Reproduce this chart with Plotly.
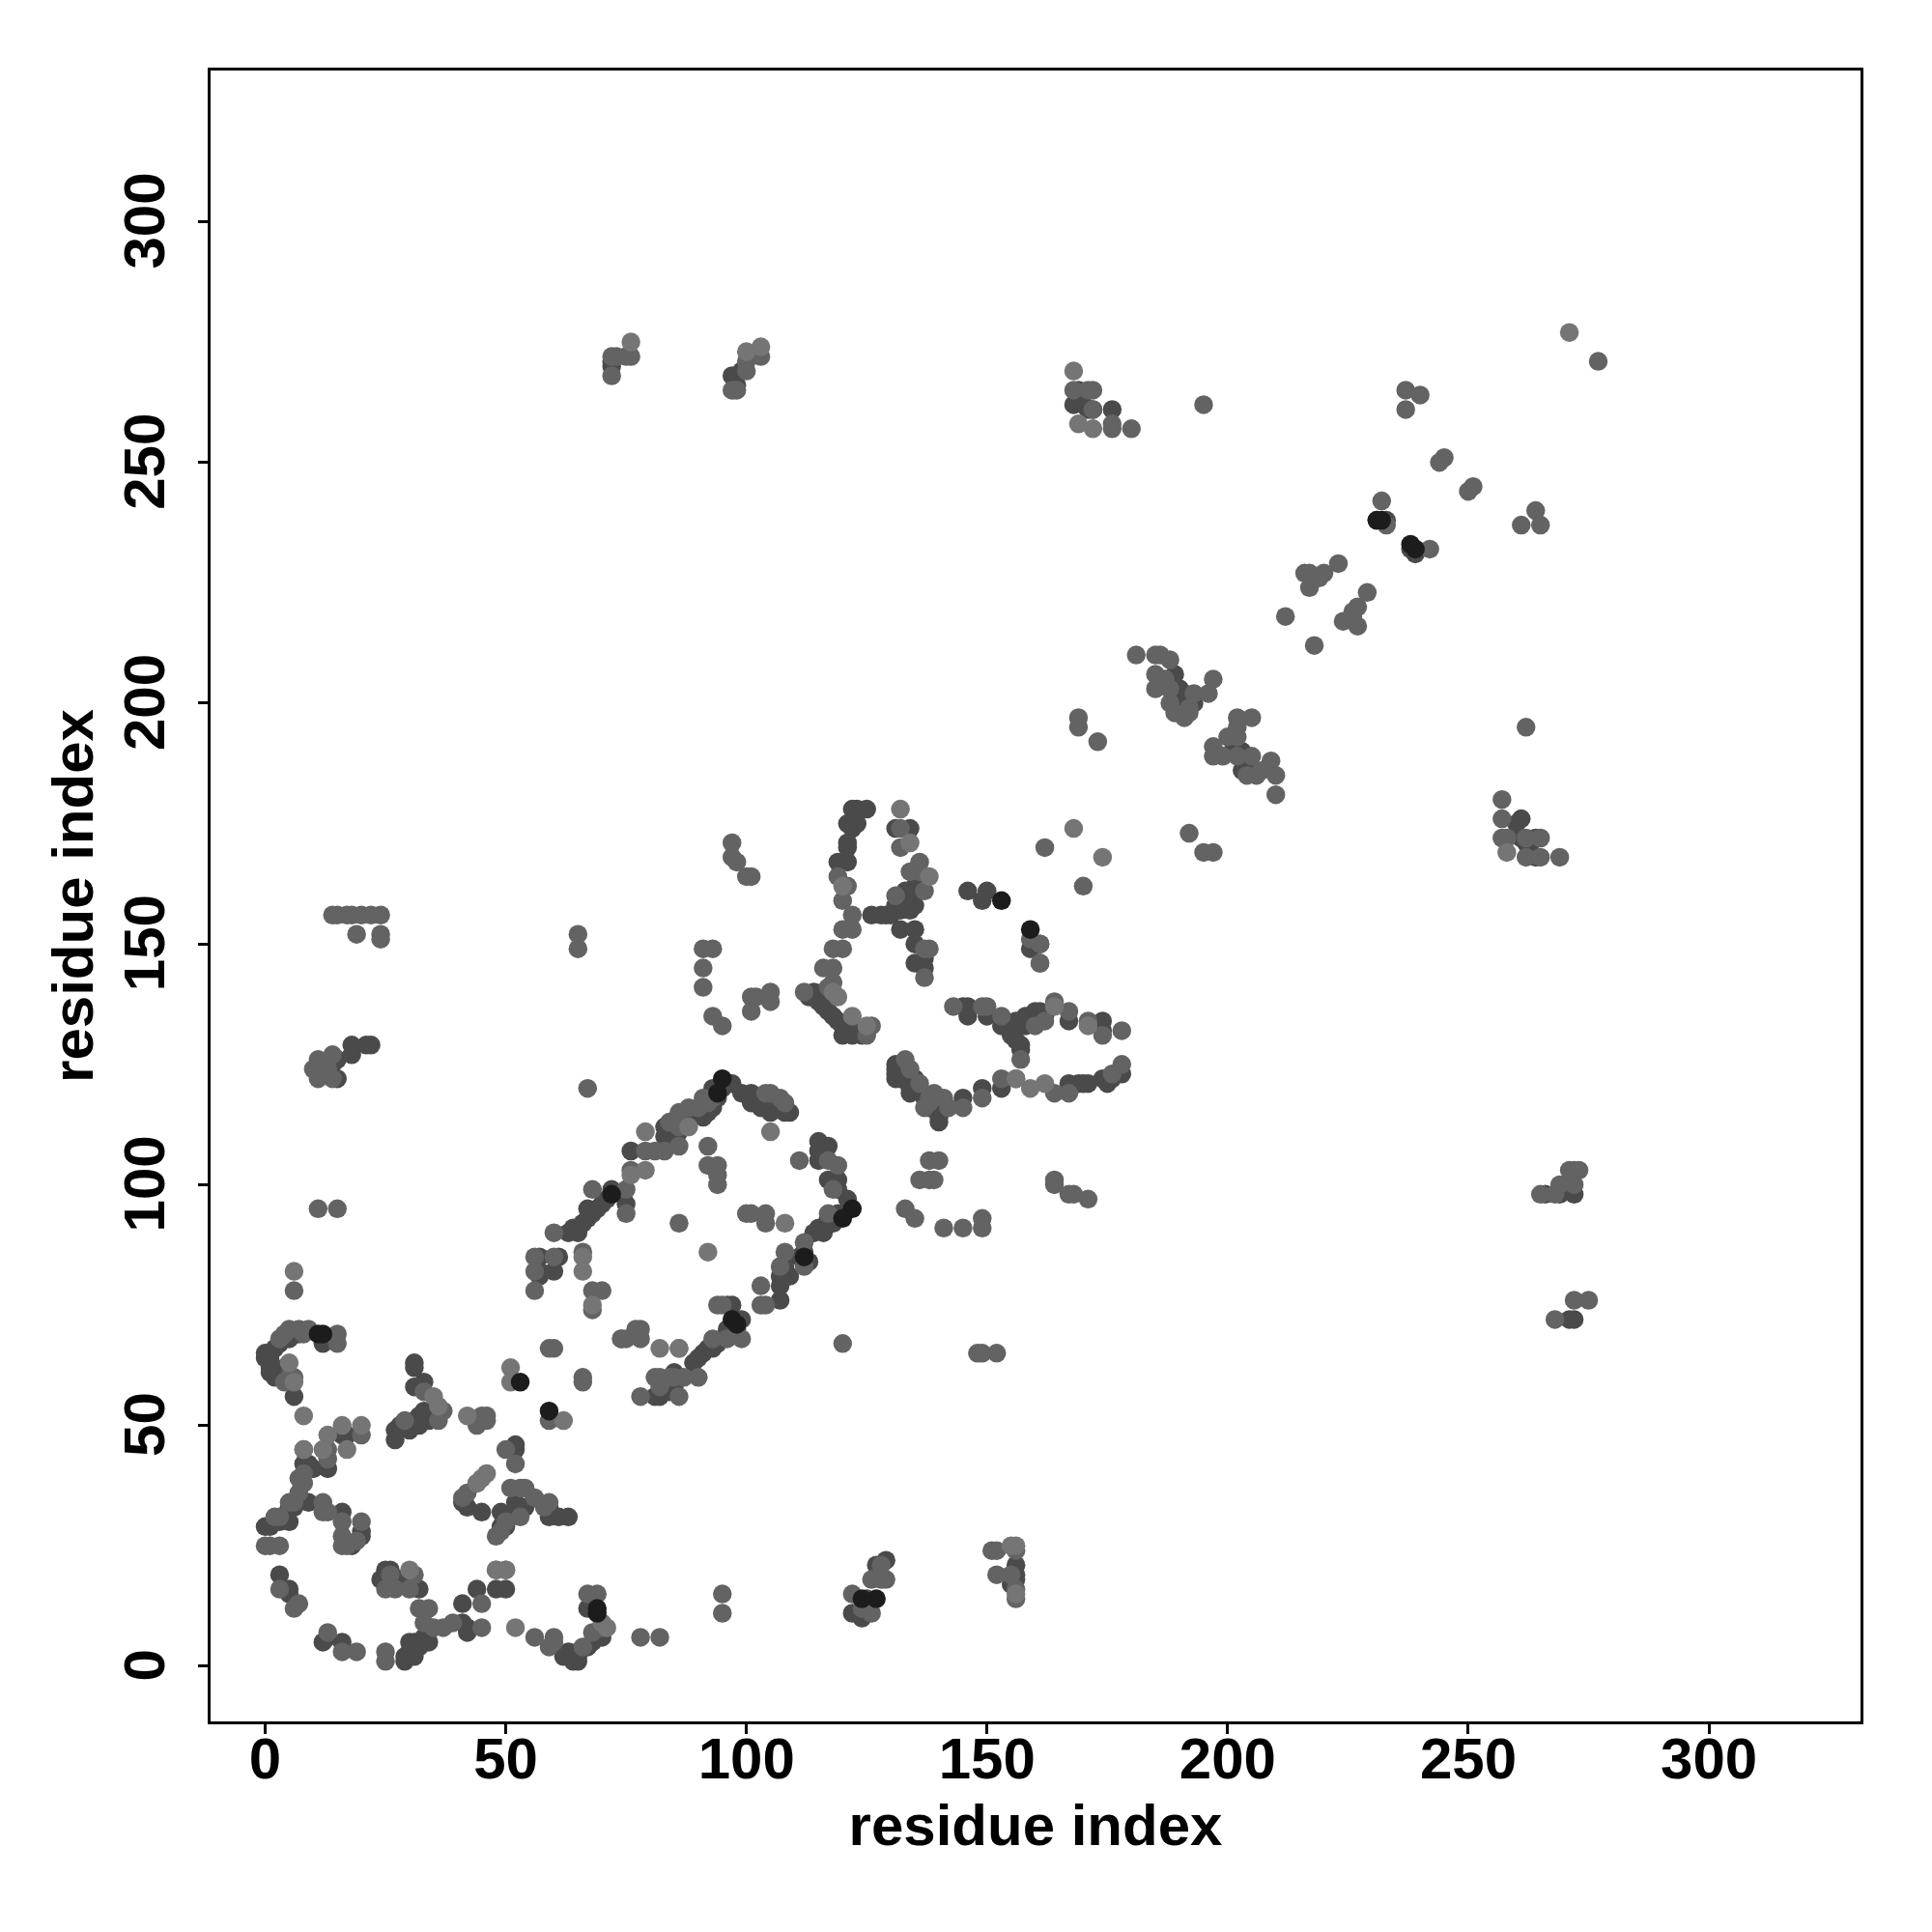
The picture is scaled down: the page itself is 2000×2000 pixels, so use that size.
import plotly.graph_objects as go

# residue contacts (i, j), grouped by the grey level of the dot
dark_contacts = [
 (0,64),(0,65),(1,64),(1,63),(1,62),(2,60),(2,66),(3,67),(5,68),(7,69),(4,62),(6,56),(12,67),(31,63),(31,62),(31,58),(33,59),
 (27,49),(28,50),(30,49),(31,51),(32,52),(32,50),(33,53),(34,51),(16,48),(17,48),(13,41),(9,42),(8,42),(10,41),(9,34),
 (6,33),(5,33),(4,31),(3,30),(1,29),(0,29),(5,30),(16,32),(20,27),(20,28),(18,25),(3,19),(5,16),(5,15),(12,5),(13,6),
 (16,5),(24,18),(25,20),(26,20),(28,18),(32,16),(41,13),(41,9),(42,8),(42,7),(44,16),(48,16),(50,16),(29,1),(29,2),(30,3),(31,2),(31,5),
 (32,4),(33,6),(34,5),(30,5),(62,2),(63,3),(64,2),(65,3),(65,2),(64,1),(65,1),(67,4),(68,5),(69,6),(70,6),(67,12),
 (41,34),(42,33),(45,32),(52,46),(52,45),(49,32),(50,31),(49,29),(50,29),(51,31),(52,34),(53,33),(54,33),(59,33),(59,31),(63,31),(61,31),
 (57,85),(61,85),(57,81),(57,82),(60,82),(65,91),(66,92),(67,93),(68,94),(67,95),(69,95),(70,96),(65,90),(63,90),(64,91),(71,97),(72,99),(75,96),
 (76,107),(83,112),(83,110),(84,110),(85,109),(85,111),(86,111),(88,113),(91,114),(92,115),(93,116),(94,118),(93,120),(95,120),(97,121),(99,119),(101,119),
 (101,117),(103,116),(105,115),(105,117),(108,115),(109,115),(115,109),(115,107),(117,108),(115,105),(117,101),(119,101),(119,99),(121,97),(119,94),(117,93),
 (115,91),(114,90),(116,90),(118,92),(112,86),(113,84),(111,85),(108,83),(109,81),(107,81),(107,79),(107,76),
 (96,75),(97,75),(99,72),(98,70),(96,70),(95,68),(94,67),(93,66),(92,66),(91,65),(90,64),(89,63),(85,61),(85,58),(84,57),(83,57),(82,56),(81,56),
 (121,175),(122,174),(123,175),(121,171),(121,170),(121,167),(119,167),(125,178),(122,178),(123,178),(116,140),(113,139),(114,140),(115,138),(116,137),(117,136),
 (118,135),(119,134),(120,133),(121,132),(122,131),(122,133),(123,132),(124,131),(120,131),(134,174),(131,174),(134,160),(135,162),(136,161),(133,161),(133,158),(134,157),(135,158),(132,157),
 (131,158),(129,156),(130,156),(128,156),(126,156),(132,153),(135,153),(135,150),(135,146),(137,147),(137,145),(146,161),(150,161),(149,159),(161,150),(161,146),(159,149),
 (145,137),(146,137),(146,135),(150,135),(153,133),(155,132),(155,131),(156,134),(156,130),(157,129),(157,128),(158,135),(159,134),(160,136),(161,136),(162,135),(158,133),(167,134),(174,134),(174,132),
 (131,125),(131,124),(131,123),(131,122),(132,122),(133,122),(135,122),(134,119),(134,120),(135,120),(136,120),(137,118),(138,116),(139,116),(140,116),(141,116),(140,115),(140,114),(140,113),(145,118),(149,120),(153,120),
 (167,121),(169,121),(170,121),(171,121),(174,122),(175,121),(176,122),(178,123),(72,271),(72,270),(97,268),(98,266),(99,269),(169,265),(168,262),(170,262),(171,261),(172,261),(176,261),
 (238,232),(239,232),(231,238),(233,238),(239,231),(189,206),(190,203),(191,202),(192,201),(193,200),(190,200),(188,203),(201,190),(203,190),(204,188),(203,186),
 (261,176),(260,175),(261,172),(262,171),(263,171),(264,172),(264,168),(266,98),(269,98),(270,100),(272,98),(272,72),(271,72),(11,124),(12,123),(14,125),(15,126),(18,129),(21,129),(22,129),(18,127),(15,122),
 (127,21),(129,22),(122,11),(124,10),(125,14),(156,21),(156,19),(156,18),(155,17),(1,61),(27,47)]

mid_contacts = [
 (6,78),(3,68),(4,69),(5,70),(7,70),(8,69),(9,70),(15,69),(15,67),(6,60),(5,60),(4,59),(33,57),(37,53),(36,51),(29,51),(44,50),(45,52),(46,52),(46,51),
 (20,48),(8,45),(13,45),(13,43),(7,39),(8,40),(7,36),(8,38),(5,34),(3,31),(2,31),(6,34),(12,34),(13,32),(12,32),(16,30),(20,30),(16,27),(16,25),(17,25),(19,26),(1,25),(3,25),(0,25),
 (3,16),(6,12),(7,13),(13,7),(16,3),(19,3),(25,3),(25,1),(27,16),(25,16),(26,19),(31,19),(30,16),(32,12),(34,12),(33,9),(35,8),(37,8),(39,9),(45,13),(45,8),(48,20),(50,20),
 (56,6),(60,6),(59,4),(60,5),(66,4),(68,7),(70,8),(67,15),(69,15),(78,6),(82,6),(44,38),(42,36),(41,35),(50,45),(52,42),(51,37),(53,37),(54,37),(56,35),(58,33),(59,34),(48,27),(49,28),(50,30),(53,31),
 (59,51),(59,66),(60,66),(66,60),(66,59),(56,85),(56,82),(56,78),(60,90),(60,85),(66,86),(68,78),(70,78),(68,74),(74,68),(75,68),(78,70),(77,70),(78,68),(82,60),(84,60),(85,60),(87,60),(90,60),(78,56),
 (68,99),(75,99),(75,94),(76,103),(79,107),(81,107),(83,107),(86,108),(84,113),(86,115),(86,112),(88,116),(90,116),(91,118),(92,117),(93,118),(92,108),(92,104),(94,104),(94,102),(94,100),(86,92),(100,94),(101,94),(104,94),(104,92),(104,119),(105,119),(107,118),(108,117),
 (111,105),(117,105),(119,104),(118,99),(117,94),(112,88),(112,83),(108,86),(107,83),(103,79),(103,75),(104,75),(94,75),(95,75),(99,68),(96,68),(93,68),(82,58),(86,56),(74,68),(81,60),
 (120,67),(133,95),(135,93),(136,101),(138,101),(139,101),(138,105),(140,105),(141,91),(145,91),(149,93),(149,91),(148,65),(149,65),(152,65),(164,101),(164,100),(167,98),(168,98),(171,97),(95,11),(95,15),
 (119,164),(121,162),(120,159),(122,156),(120,153),(122,153),(118,149),(120,149),(116,145),(118,145),(118,142),(112,140),(117,141),(126,133),(125,131),
 (132,174),(132,170),(136,167),(136,165),(137,161),(131,160),(134,165),(137,149),(138,149),(137,143),(150,137),(149,137),(153,135),(143,137),(157,126),(162,134),(160,133),(164,138),(167,136),(171,134),(174,131),(178,132),
 (159,151),(161,150),(161,146),(162,170),(170,162),(133,126),(134,124),(136,121),(138,118),(139,119),(141,118),(142,116),(138,117),(137,116),(145,116),(149,118),(153,122),(156,122),(164,119),(167,119),(176,123),(178,125),
 (72,272),(73,272),(75,272),(76,272),(72,268),(97,265),(98,265),(100,271),(103,272),(100,269),(168,265),(171,265),(172,265),(172,261),(176,258),(176,257),(180,257),(195,262),(237,265),(240,264),(237,261),(277,271),(245,251),(244,250),(251,245),(250,244),
 (232,242),(232,238),(233,237),(242,232),(264,240),(261,237),(265,237),(223,229),(216,227),(217,227),(217,224),(220,227),(219,226),(229,223),(227,220),(226,219),(226,218),(224,217),(227,216),(212,218),(218,212),
 (181,210),(185,210),(186,210),(188,209),(185,206),(185,203),(187,205),(188,203),(188,200),(189,198),(191,197),(192,199),(192,198),(193,202),(196,202),(197,205),(202,197),(205,197),(202,195),(202,193),(197,191),(197,189),(200,193),(199,189),(202,189),(205,189),(204,185),(206,185),(207,186),(209,188),(210,185),(210,181),
 (169,197),(169,195),(173,192),(192,173),(195,169),(197,169),(262,195),(257,180),(257,176),(257,172),(258,172),(262,172),(262,168),(265,172),(265,168),(269,168),(265,98),(268,98),(269,100),(271,103),(272,103),(273,103),(272,100),(268,72),(272,76),(275,76),
 (11,95),(15,95),(14,156),(15,156),(17,156),(18,156),(20,156),(22,156),(24,156),(24,152),(24,151),(19,152),(10,124),(11,122),(14,122),(13,124),(11,126),(14,127),(65,152),(65,149),(67,120),(97,171),(97,168),(98,167),(100,164),(101,164),
 (91,149),(93,149),(91,145),(91,141),(93,135),(95,133),(101,139),(101,136),(102,139),(105,140),(105,138),
 (122,15),(126,11),(126,18),(129,18),(128,18),(128,21),(124,12),(151,24),(152,24),(156,24),(152,19),(155,19),(156,16),(156,14)]

light_contacts = [
 (6,82),(8,52),(5,63),(6,59),(35,56),(36,54),(42,52),(51,62),(51,59),(62,51),(66,85),(66,82),(68,75),(82,66),(86,66),(86,66),
 (8,45),(13,48),(16,50),(20,50),(17,45),(12,45),(46,40),(45,39),(44,38),(52,8),(30,20),(48,20),(50,20),(70,9),(71,8),
 (79,111),(79,103),(88,112),(76,102),(108,92),(105,111),(92,86),(118,140),(119,139),(122,135),
 (132,178),(134,171),(138,164),(120,162),(168,174),(174,168),(164,137),(171,133),(159,120),(162,121),(156,122),(125,133),
 (271,277),(103,274),(76,275),(100,273),(172,257),(169,258),(168,269),(258,169),(156,25),(156,15),(155,25)]

black_contacts = [
 (11,69),(12,69),(53,59),(59,53),(69,12),(72,98),(95,122),(94,119),(97,72),(98,71),
 (122,95),(120,93),(112,85),(153,159),(159,153),(231,238),(232,238),(238,233),(239,232),(127,14),(124,14),(69,11)]

tick_vals = [0, 50, 100, 150, 200, 250, 300]
axis_title = "residue index"
FONT = "Liberation Sans"

fig = go.Figure()
for pairs, colour in [(dark_contacts, "#4a4a4a"), (mid_contacts, "#636363"),
                      (light_contacts, "#757575"), (black_contacts, "#1c1c1c")]:
    fig.add_trace(go.Scatter(x=[p[0] for p in pairs], y=[p[1] for p in pairs], mode="markers",
                             showlegend=False, marker=dict(color=colour, size=19.5, line=dict(width=0))))

def axis(rng, angle, standoff, label_standoff, label_shift):
    return dict(range=rng, tickvals=tick_vals, showgrid=False, zeroline=False,
                ticks="outside", ticklen=10, tickwidth=3.4, tickcolor="black",
                showline=True, mirror=True, linecolor="black", linewidth=3.4,
                tickangle=angle, ticklabelstandoff=label_standoff, ticklabelshift=label_shift,
                tickfont=dict(family=FONT, size=60, color="black", weight="bold"),
                title=dict(text=axis_title, standoff=standoff,
                           font=dict(family=FONT, size=60, color="black", weight="bold")))

fig.update_layout(width=2000, height=2000, paper_bgcolor="white", plot_bgcolor="white",
                  margin=dict(l=217.5, r=74, t=73, b=217.5, autoexpand=False),
                  xaxis=axis([-11.34, 331.5], 0, 15, -26, 0),
                  yaxis=axis([-11.47, 331.4], -90, 0, 11, 8))
fig.write_html("out.html", post_script="document.body.style.margin='0';",
               config={"displayModeBar": False})
